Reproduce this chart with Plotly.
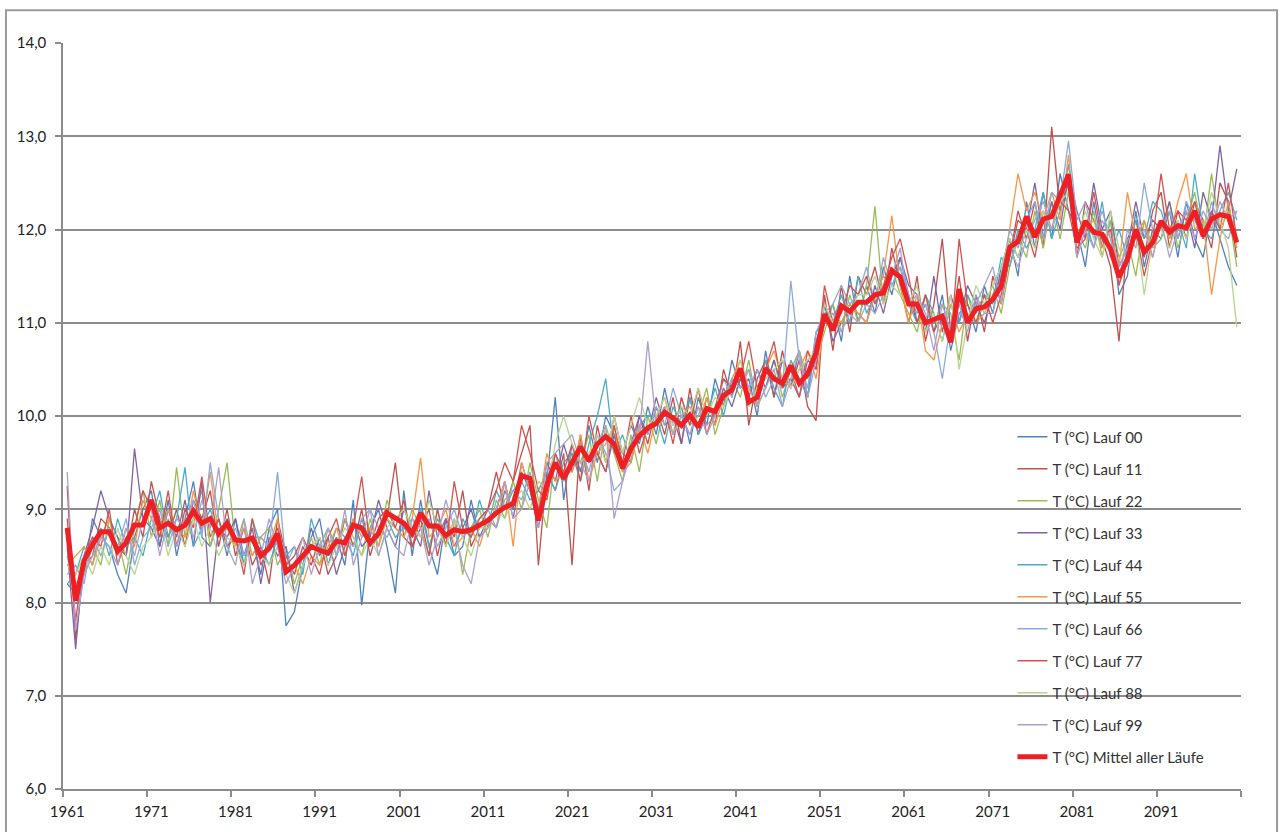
import plotly.graph_objects as go

years = list(range(1961, 2101))
tick_years = list(range(1961, 2100, 10))
tick_labels = [str(y) for y in tick_years]

lauf_00 = [
8.2, 8.1, 8.3, 8.9, 8.7, 8.6, 8.3, 8.1, 8.7, 9.0,
9.2, 8.6, 9.1, 8.5, 8.9, 9.3, 8.7, 8.6, 8.9, 8.5,
8.9, 8.4, 8.7, 8.3, 8.8, 9.0, 7.75, 7.9, 8.4, 8.7,
8.9, 8.4, 8.7, 8.4, 9.1, 7.97, 8.8, 9.0, 8.6, 8.1,
9.2, 8.5, 9.1, 8.6, 8.3, 8.9, 8.5, 8.6, 9.1, 8.7,
8.9, 8.8, 9.2, 9.0, 9.5, 9.2, 8.8, 9.3, 10.2, 9.1,
9.7, 9.4, 9.9, 9.5, 10.0, 9.8, 9.6, 9.9, 9.7, 10.1,
9.8, 10.3, 9.9, 10.1, 9.7, 10.2, 9.9, 10.4, 10.1, 10.6,
10.3, 10.4, 10.0, 10.7, 10.2, 10.6, 10.3, 10.7, 10.2, 10.9,
11.0, 11.2, 10.8, 11.5, 11.0, 11.4, 11.1, 11.6, 11.3, 11.7,
11.3, 11.0, 11.2, 10.9, 11.3, 10.7, 11.1, 11.2, 10.9, 11.4,
11.1, 11.6, 11.9, 11.5, 12.3, 11.8, 12.4, 11.9, 12.6, 12.2,
12.0, 11.6, 12.3, 11.8, 12.1, 11.3, 11.5, 12.2, 11.6, 12.0,
11.9, 12.2, 11.7, 12.3, 11.9, 11.7, 12.2, 11.9, 11.6, 11.4]

lauf_11 = [
9.25, 7.6, 8.4, 8.5, 8.9, 8.8, 8.6, 8.5, 9.0, 8.7,
9.3, 8.9, 8.7, 9.0, 8.6, 9.1, 8.9, 9.2, 8.6, 9.0,
8.5, 8.8, 8.4, 8.6, 8.2, 8.9, 8.5, 8.3, 8.6, 8.4,
8.7, 8.3, 8.5, 8.9, 8.6, 9.0, 8.5, 8.8, 8.9, 9.5,
8.7, 8.6, 8.8, 9.0, 8.5, 8.9, 8.7, 9.2, 8.6, 8.8,
9.0, 9.4, 9.0, 9.3, 9.6, 9.9, 8.4, 9.4, 9.2, 9.6,
8.4, 9.8, 9.2, 9.9, 9.5, 10.0, 9.6, 9.5, 10.0, 9.7,
10.1, 9.8, 10.2, 9.7, 10.3, 9.8, 10.2, 9.9, 10.5, 10.2,
10.8, 9.9, 10.4, 10.6, 10.2, 10.7, 10.3, 10.6, 10.1, 9.95,
11.3, 10.7, 11.4, 10.9, 11.5, 11.3, 11.6, 11.2, 11.8, 11.4,
11.0, 11.5, 10.8, 11.2, 11.9, 10.9, 11.5, 10.8, 11.3, 10.9,
11.5, 11.2, 11.7, 12.2, 11.9, 12.3, 11.8, 13.1, 12.2, 12.5,
11.7, 12.3, 12.1, 11.9, 11.6, 10.8, 11.9, 12.1, 11.7, 12.2,
12.4, 11.8, 12.2, 11.9, 12.3, 12.1, 11.8, 12.5, 12.3, 11.7]

lauf_22 = [
8.5, 8.2, 8.3, 8.6, 8.4, 8.9, 8.7, 8.3, 8.8, 9.2,
8.7, 9.1, 8.6, 9.45, 8.7, 8.9, 9.2, 8.6, 9.0, 9.5,
8.6, 8.9, 8.5, 8.7, 8.8, 8.4, 8.6, 8.2, 8.5, 8.7,
8.4, 8.8, 8.6, 8.9, 8.7, 8.5, 8.9, 8.6, 9.1, 8.8,
8.7, 9.0, 8.8, 8.5, 9.0, 8.6, 8.9, 8.3, 8.8, 9.0,
8.7, 9.1, 8.9, 9.3, 9.0, 9.5, 9.1, 8.8, 9.6, 9.3,
9.6, 9.5, 9.8, 9.3, 9.9, 9.6, 9.3, 9.8, 9.4, 10.0,
9.7, 10.1, 9.8, 10.2, 9.9, 10.0, 10.3, 9.8, 10.1, 10.4,
10.2, 10.6, 10.1, 10.3, 10.6, 10.2, 10.5, 10.7, 10.4, 10.6,
10.9, 11.2, 10.9, 11.3, 11.0, 11.4, 12.25, 11.2, 11.6, 11.3,
11.1, 10.9, 11.3, 11.0, 11.2, 11.1, 10.6, 11.3, 11.0, 11.2,
11.4, 11.1, 11.6, 11.9, 11.7, 12.2, 11.8, 12.3, 11.9, 12.4,
12.0, 11.8, 12.2, 11.7, 12.1, 11.7, 11.9, 11.5, 12.1, 11.8,
11.9, 12.3, 11.8, 12.1, 12.4, 11.9, 12.6, 12.0, 12.2, 11.6]

lauf_33 = [
8.6, 7.5, 8.5, 8.8, 9.2, 8.9, 8.7, 8.5, 9.65, 8.9,
8.8, 8.6, 9.0, 8.7, 9.1, 8.6, 9.3, 8.0, 8.8, 8.7,
8.9, 8.5, 8.8, 8.2, 8.7, 8.5, 8.6, 8.1, 8.4, 8.8,
8.5, 8.7, 8.3, 8.6, 8.9, 8.6, 8.7, 9.1, 8.8, 8.6,
9.0, 8.8, 8.6, 9.2, 8.7, 8.9, 8.6, 8.8, 9.0, 8.7,
8.8, 9.0, 9.3, 8.9, 9.4, 9.2, 9.0, 9.5, 9.3, 9.7,
9.4, 9.7, 9.5, 9.6, 9.4, 9.8, 9.4, 9.7, 10.0, 9.8,
10.2, 9.9, 10.0, 9.7, 10.2, 9.8, 10.1, 10.0, 10.3, 10.1,
10.4, 10.2, 10.5, 10.3, 10.6, 10.3, 10.4, 10.2, 10.6, 10.5,
11.2, 10.8, 11.0, 11.2, 11.1, 11.0, 11.4, 11.1, 11.5, 11.7,
11.4, 11.3, 10.9, 11.5, 10.9, 11.3, 11.0, 11.4, 11.2, 11.0,
11.3, 11.5, 11.9, 11.7, 12.0, 12.5, 11.9, 12.3, 12.0, 12.6,
12.2, 11.9, 12.5, 12.0, 12.2, 11.6, 11.8, 12.3, 11.9, 12.1,
12.0, 12.3, 11.9, 12.2, 11.8, 12.4, 12.1, 12.9, 12.2, 12.65]

lauf_44 = [
8.2, 8.3, 8.6, 8.4, 8.8, 8.5, 8.9, 8.6, 8.7, 8.5,
8.9, 9.2, 8.7, 8.9, 9.45, 8.6, 8.8, 9.0, 8.7, 8.9,
8.7, 8.4, 8.9, 8.6, 8.4, 8.7, 8.5, 8.6, 8.3, 8.9,
8.6, 8.5, 8.8, 8.7, 8.5, 8.9, 8.6, 8.7, 8.9, 8.7,
8.8, 8.7, 9.0, 8.6, 8.9, 8.7, 8.5, 8.9, 8.7, 9.1,
8.8, 9.2, 9.0, 9.2, 9.3, 9.1, 9.2, 9.4, 9.2, 9.5,
9.6, 9.3, 9.7, 10.0, 10.4, 9.6, 9.8, 9.5, 9.9, 10.0,
10.0, 9.7, 10.1, 9.9, 10.2, 9.8, 10.0, 10.3, 10.0, 10.4,
10.3, 10.5, 10.1, 10.6, 10.3, 10.1, 10.6, 10.4, 10.2, 10.8,
11.1, 11.0, 11.3, 11.0, 11.5, 11.1, 11.3, 11.5, 11.4, 11.6,
11.2, 11.0, 11.3, 11.1, 10.8, 11.2, 11.0, 11.3, 11.1, 11.3,
11.2, 11.7, 11.6, 12.0, 11.8, 12.0, 12.4, 11.9, 12.2, 12.7,
11.9, 12.1, 11.8, 12.3, 11.7, 12.0, 11.7, 12.1, 11.9, 12.3,
12.2, 11.9, 12.1, 11.8, 12.6, 12.0, 11.9, 12.2, 12.4, 12.1]

lauf_55 = [
8.4, 8.5, 8.6, 8.4, 8.7, 8.9, 8.5, 8.8, 8.6, 9.1,
8.9, 8.7, 9.0, 8.8, 8.7, 9.2, 8.8, 9.4, 8.7, 8.8,
8.6, 8.8, 8.5, 8.7, 8.6, 8.9, 8.3, 8.4, 8.2, 8.5,
8.4, 8.6, 8.8, 8.5, 8.9, 8.7, 8.8, 8.6, 8.9, 8.8,
8.7, 8.9, 9.55, 8.7, 8.8, 9.0, 8.6, 8.7, 8.8, 8.6,
8.9, 8.8, 9.3, 8.6, 9.5, 9.2, 9.0, 9.6, 9.3, 9.4,
9.4, 9.8, 9.3, 9.6, 9.7, 9.9, 9.4, 9.5, 9.9, 9.6,
10.0, 10.2, 9.8, 10.0, 10.1, 9.9, 10.2, 9.9, 10.2, 10.4,
10.6, 10.3, 10.1, 10.5, 10.7, 10.4, 10.3, 10.5, 10.7, 10.4,
11.0, 11.1, 11.0, 11.2, 11.1, 11.0, 11.3, 11.5, 12.15, 11.4,
11.0, 11.3, 10.7, 10.6, 11.0, 11.2, 10.9, 11.1, 11.0, 11.1,
11.3, 11.4, 12.0, 12.6, 12.2, 12.4, 12.1, 12.4, 12.1, 12.8,
11.9, 12.0, 12.1, 11.8, 12.0, 11.6, 12.4, 11.9, 12.1, 11.7,
12.1, 11.9, 12.3, 12.6, 12.0, 12.1, 11.3, 11.9, 12.3, 11.8]

lauf_66 = [
8.3, 8.4, 8.2, 8.7, 8.5, 8.8, 8.6, 8.9, 8.4, 8.7,
8.8, 9.0, 8.6, 8.9, 8.8, 9.1, 8.7, 9.5, 8.9, 8.6,
8.8, 8.5, 8.7, 8.7, 8.6, 9.4, 8.4, 8.6, 8.4, 8.6,
8.6, 8.8, 8.5, 8.7, 8.6, 8.9, 9.0, 8.8, 8.7, 8.9,
8.8, 8.9, 8.7, 8.9, 8.6, 8.8, 9.0, 8.7, 8.8, 8.9,
9.0, 8.8, 9.1, 9.2, 9.1, 9.4, 9.0, 9.3, 9.6, 9.3,
9.5, 9.7, 9.4, 9.8, 9.6, 9.2, 9.3, 9.7, 9.9, 9.8,
10.1, 9.9, 10.3, 10.0, 9.8, 10.1, 9.9, 10.0, 10.4, 10.2,
10.5, 10.3, 10.5, 10.2, 10.4, 10.3, 11.45, 10.6, 10.3, 10.9,
11.1, 11.2, 11.4, 11.2, 11.3, 11.6, 11.2, 11.7, 11.4, 11.6,
11.3, 11.1, 11.2, 10.9, 10.4, 11.0, 11.2, 10.9, 11.3, 11.1,
11.1, 11.5, 12.0, 11.8, 12.1, 12.3, 11.9, 12.4, 12.3, 12.95,
12.1, 12.3, 11.9, 12.2, 11.9, 11.4, 12.0, 11.8, 12.5, 12.0,
12.0, 12.2, 11.9, 12.3, 12.1, 11.9, 12.3, 12.0, 11.9, 12.2]

lauf_77 = [
8.9, 7.8, 8.5, 8.7, 8.6, 9.0, 8.4, 8.7, 8.8, 9.2,
9.0, 8.7, 9.2, 8.6, 9.0, 8.8, 9.35, 8.7, 8.9, 8.6,
8.7, 8.3, 8.9, 8.4, 8.6, 8.8, 8.4, 8.5, 8.7, 8.5,
8.3, 8.7, 8.9, 8.5, 8.8, 9.35, 8.6, 8.9, 9.0, 8.8,
9.1, 8.6, 8.9, 8.5, 9.0, 8.6, 9.3, 8.8, 8.7, 8.9,
9.0, 9.2, 9.5, 9.3, 9.9, 9.6, 9.2, 9.1, 9.6, 9.4,
9.7, 9.3, 10.0, 9.6, 9.4, 9.9, 9.5, 10.0, 9.6, 9.9,
9.9, 10.1, 9.7, 10.2, 9.9, 10.3, 9.8, 10.1, 10.4, 10.3,
10.4, 10.8, 10.3, 10.5, 10.8, 10.3, 10.5, 10.2, 10.7, 10.5,
11.4, 11.0, 11.1, 11.4, 11.3, 11.5, 11.2, 11.4, 11.7, 11.9,
11.5, 11.0, 11.3, 10.9, 11.1, 10.8, 11.9, 11.2, 11.0, 11.3,
11.0, 11.3, 11.7, 12.1, 12.0, 11.7, 12.2, 12.0, 12.3, 12.2,
11.8, 11.9, 12.4, 11.9, 12.0, 11.4, 11.7, 12.0, 11.5, 11.9,
12.6, 12.0, 12.2, 12.1, 12.3, 11.9, 12.2, 12.0, 12.5, 11.9]

lauf_88 = [
8.4, 8.3, 8.5, 8.3, 8.6, 8.4, 8.8, 8.5, 8.3, 8.6,
8.7, 8.9, 8.5, 8.8, 8.6, 8.9, 8.6, 8.8, 8.5, 8.7,
8.6, 8.4, 8.7, 8.5, 8.4, 8.6, 8.3, 8.1, 8.4, 8.6,
8.7, 8.4, 8.6, 8.8, 8.7, 8.5, 8.7, 8.5, 8.8, 8.9,
9.0, 8.8, 8.7, 9.1, 8.8, 8.6, 8.9, 8.7, 8.5, 8.8,
8.8, 9.0, 8.9, 9.1, 9.2, 9.0, 9.3, 9.2, 9.7, 10.0,
9.7, 9.5, 9.6, 9.8, 9.5, 10.0, 9.6, 9.9, 10.2, 9.9,
10.0, 10.2, 9.9, 10.1, 10.0, 10.3, 10.0, 10.2, 10.1, 10.3,
10.6, 10.1, 10.3, 10.4, 10.5, 10.6, 10.3, 10.5, 10.6, 10.7,
11.2, 11.0, 11.2, 11.1, 11.3, 11.3, 11.5, 11.2, 11.4, 11.3,
11.2, 11.4, 10.9, 11.1, 10.8, 11.3, 10.5, 11.0, 11.4, 11.2,
11.4, 11.6, 11.9, 11.7, 12.0, 11.8, 12.2, 12.0, 12.3, 12.4,
11.9, 12.2, 11.9, 11.7, 12.2, 11.8, 11.6, 12.0, 11.3, 11.9,
12.0, 11.8, 12.1, 11.9, 12.2, 12.0, 12.4, 12.1, 11.8, 10.95]

lauf_99 = [
9.4, 7.7, 8.3, 8.5, 8.7, 8.6, 8.4, 8.8, 8.5, 8.9,
9.0, 8.5, 8.9, 8.6, 8.9, 8.7, 9.1, 8.8, 9.45, 8.6,
8.4, 8.9, 8.2, 8.5, 8.9, 8.6, 8.2, 8.4, 8.7, 8.3,
8.6, 8.8, 8.5, 9.0, 8.4, 8.7, 9.0, 8.5, 8.8, 8.6,
8.5, 8.9, 8.8, 8.4, 8.7, 9.1, 8.8, 8.4, 8.2, 8.7,
8.8, 9.0, 9.3, 8.9, 9.0, 9.3, 8.8, 9.5, 9.6, 9.7,
9.8, 9.5, 9.3, 9.7, 9.9, 8.9, 9.3, 9.6, 9.8, 10.8,
9.9, 10.1, 9.8, 10.0, 9.8, 10.1, 9.8, 10.0, 10.2, 10.4,
10.3, 10.5, 10.1, 10.3, 10.5, 10.1, 10.4, 10.7, 10.2, 10.6,
11.0, 11.1, 10.9, 11.1, 11.0, 11.2, 11.1, 11.3, 11.5, 11.8,
11.2, 11.3, 11.1, 10.7, 11.2, 10.9, 11.1, 11.0, 11.2, 11.4,
11.6, 11.2, 11.8, 11.6, 11.9, 12.1, 12.3, 12.0, 12.4, 12.6,
11.7, 12.0, 11.8, 12.1, 11.9, 11.6, 11.8, 11.9, 12.0, 11.7,
12.1, 11.7, 12.0, 12.2, 11.9, 12.2, 12.0, 12.3, 12.1, 12.2]

mittel = [
8.80, 8.02, 8.45, 8.62, 8.76, 8.76, 8.55, 8.64, 8.83, 8.83,
9.10, 8.80, 8.85, 8.78, 8.83, 8.98, 8.85, 8.90, 8.74, 8.85,
8.67, 8.66, 8.69, 8.50, 8.58, 8.74, 8.33, 8.40, 8.50, 8.60,
8.56, 8.53, 8.66, 8.64, 8.83, 8.80, 8.64, 8.74, 8.96, 8.90,
8.85, 8.74, 8.96, 8.82, 8.82, 8.72, 8.78, 8.76, 8.78, 8.83,
8.88, 8.96, 9.02, 9.06, 9.36, 9.33, 8.88, 9.26, 9.50, 9.33,
9.50, 9.67, 9.52, 9.70, 9.78, 9.70, 9.44, 9.65, 9.79, 9.87,
9.92, 10.04, 9.98, 9.90, 10.01, 9.88, 10.08, 10.05, 10.22, 10.28,
10.51, 10.15, 10.20, 10.51, 10.40, 10.35, 10.54, 10.35, 10.45, 10.68,
11.09, 10.92, 11.18, 11.12, 11.22, 11.22, 11.30, 11.32, 11.56, 11.49,
11.20, 11.20, 11.00, 11.04, 11.07, 10.79, 11.36, 11.00, 11.15, 11.17,
11.25, 11.39, 11.81, 11.87, 12.14, 11.92, 12.11, 12.14, 12.35, 12.59,
11.86, 12.09, 11.97, 11.95, 11.79, 11.49, 11.68, 12.00, 11.76, 11.86,
12.09, 11.97, 12.04, 12.02, 12.20, 11.93, 12.11, 12.16, 12.14, 11.86]

runs = [
    ("T (°C) Lauf 00", lauf_00, "#4F81BD"),
    ("T (°C) Lauf 11", lauf_11, "#C0504D"),
    ("T (°C) Lauf 22", lauf_22, "#9BBB59"),
    ("T (°C) Lauf 33", lauf_33, "#8064A2"),
    ("T (°C) Lauf 44", lauf_44, "#4BACC6"),
    ("T (°C) Lauf 55", lauf_55, "#F79646"),
    ("T (°C) Lauf 66", lauf_66, "#8EAADB"),
    ("T (°C) Lauf 77", lauf_77, "#D4524E"),
    ("T (°C) Lauf 88", lauf_88, "#B9D48E"),
    ("T (°C) Lauf 99", lauf_99, "#ADA0CC"),
]

fig = go.Figure()
for i, (name, vals, col) in enumerate(runs):
    fig.add_trace(go.Scatter(x=years, y=vals, mode="lines", name=name,
                             legendgroup="g%d" % i,
                             line=dict(color=col, width=1.3)))
fig.add_trace(go.Scatter(x=years, y=mittel, mode="lines",
                         name="T (°C) Mittel aller Läufe", legendgroup="gm",
                         line=dict(color="#EE2024", width=5)))

grid = "#8C8C8C"
fam = "Lato, 'Open Sans', sans-serif"
fig.update_layout(
    width=1281, height=832,
    margin=dict(l=63, r=40, t=43, b=40),
    paper_bgcolor="white", plot_bgcolor="white",
    separators=",.",
    font=dict(family=fam, size=15, color="#333333"),
    hovermode=False,
    showlegend=True,
    legend=dict(x=0.806, y=0.494, xanchor="left", yanchor="top",
                bgcolor="rgba(0,0,0,0)", tracegroupgap=9.5,
                font=dict(family=fam, size=15, color="#333333")),
    xaxis=dict(range=[1960.5, 2100.5], tickmode="array", tickvals=tick_years,
               ticktext=tick_labels, ticks="", showgrid=False, zeroline=False,
               showline=True, linecolor=grid, linewidth=1.5,
               ticklabelstandoff=8,
               tickfont=dict(family=fam, size=15, color="#222222"),
               minor=dict(tickmode="array",
                          tickvals=[y - 0.5 for y in range(1961, 2102, 10)],
                          ticks="outside", ticklen=6, tickcolor=grid, tickwidth=1.5,
                          showgrid=False)),
    yaxis=dict(range=[6, 14], dtick=1, tick0=6, tickformat=".1f",
               showgrid=True, gridcolor=grid, gridwidth=1.5, zeroline=False,
               showline=True, linecolor=grid, linewidth=1.5,
               ticks="outside", ticklen=6, tickcolor=grid, tickwidth=1.5,
               ticklabelstandoff=6,
               tickfont=dict(family=fam, size=15, color="#222222")),
)
fig.add_shape(type="rect", xref="paper", yref="paper",
              x0=-0.0484, x1=1.0306, y0=-0.1, y1=1.044,
              line=dict(color="#9A9A9A", width=2), layer="below")

fig.write_html("out.html", config={"displayModeBar": False},
               post_script="document.body.style.margin='0';")
